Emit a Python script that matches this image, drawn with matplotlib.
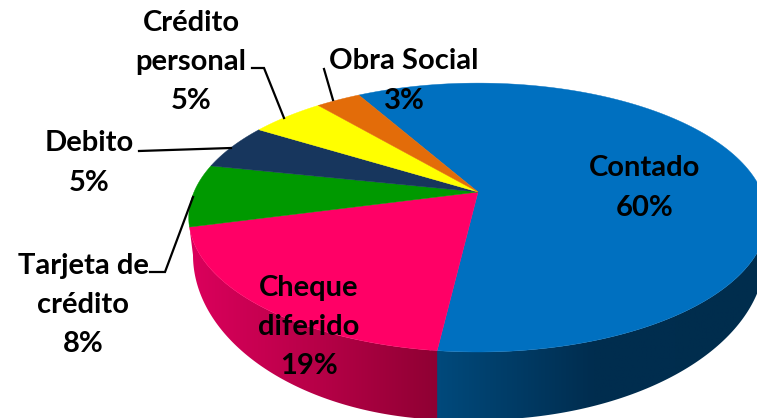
import numpy as np
import matplotlib
matplotlib.use("Agg")
import matplotlib.pyplot as plt
from matplotlib.colors import LinearSegmentedColormap
from matplotlib.patches import Polygon

labels = ["Contado\n60%", "Cheque\ndiferido\n19%", "Tarjeta de\ncrédito\n8%",
          "Debito\n5%", "Crédito\npersonal\n5%", "Obra Social\n3%"]
# slice sizes, the labels show them rounded
values = [60, 19, 7.5, 5.5, 5, 3]
colors = ["#0070C0", "#FF0066", "#009900", "#17365D", "#FFFF00", "#E36C09"]
label_pos = [(645, 188), (309, 327), (83, 305), (89, 163), (191, 62), (404, 81)]

# leader lines
leaders = [
    [(150, 272), (165, 272), (193, 197)],
    [(139, 151), (231, 148)],
    [(252, 68), (264, 68), (284, 118)],
    [(324, 69), (333, 100)],
]

# pie geometry, in pixels of the picture
cx, cy = 478, 192
a, b, k = 284, 129.6, 0.19
start = -29.3
# lower edge of the side wall: (centre x, centre y, rx, ry)
low_right = (478, 255, 287, 165)
low_left = (455, 255, 262, 165)


def rim(theta):
    # point on the top face for an angle clockwise from 12 o'clock
    t = np.radians(theta)
    u, v = np.sin(t), -np.cos(t)
    w = 1 - k * v
    return cx + a * u / w, cy + b * v / w


def low_arc(phi, shape):
    p = np.radians(phi)
    return shape[0] + shape[2] * np.cos(p), shape[1] + shape[3] * np.sin(p)


def side(ax, rim_from, rim_to, phi_from, phi_to, shape, stops, x0, x1):
    tx, ty = rim(np.linspace(rim_from, rim_to, 120))
    lx, ly = low_arc(np.linspace(phi_from, phi_to, 120), shape)
    pts = np.column_stack([np.r_[tx, lx], np.r_[ty, ly]])
    poly = Polygon(pts, closed=True, fc="none", ec="none", transform=ax.transData)
    ax.add_patch(poly)
    cmap = LinearSegmentedColormap.from_list("wall", stops)
    im = ax.imshow(np.linspace(0, 1, 256)[None, :], cmap=cmap, aspect="auto",
                   extent=(x0, x1, 425, 200), zorder=1)
    im.set_clip_path(poly)


fig = plt.figure(figsize=(7.57, 4.18), dpi=100)
ax = fig.add_axes([0, 0, 1, 1])

edges = start + np.r_[0, np.cumsum(values)] * 3.6

# side wall, only the two front slices show
side(ax, edges[1] + 1, 75, 0, 99, low_right,
     ["#004B7E", "#002D4F", "#002D4D"], 430, 757)
side(ax, edges[2], edges[1], 93.9, 180, low_left,
     ["#DB005C", "#B80048", "#8F0033"], 190, 438)

# top face
for i, c in enumerate(colors):
    xs, ys = rim(np.linspace(edges[i], edges[i + 1], 150))
    pts = np.column_stack([np.r_[cx, xs], np.r_[cy, ys]])
    ax.add_patch(Polygon(pts, closed=True, fc=c, ec=c, lw=0.3, zorder=2))

for line in leaders:
    ax.plot(*zip(*line), color="black", lw=1.6, solid_joinstyle="miter", zorder=3)

for txt, (x, y) in zip(labels, label_pos):
    ax.text(x, y, txt, ha="center", va="center", family="Lato", weight="bold",
            fontsize=21, linespacing=1.63, color="black", zorder=4)

ax.set_xlim(0, 757)
ax.set_ylim(418, 0)
ax.axis("off")
fig.savefig("out.png", dpi=100)
plt.close(fig)
